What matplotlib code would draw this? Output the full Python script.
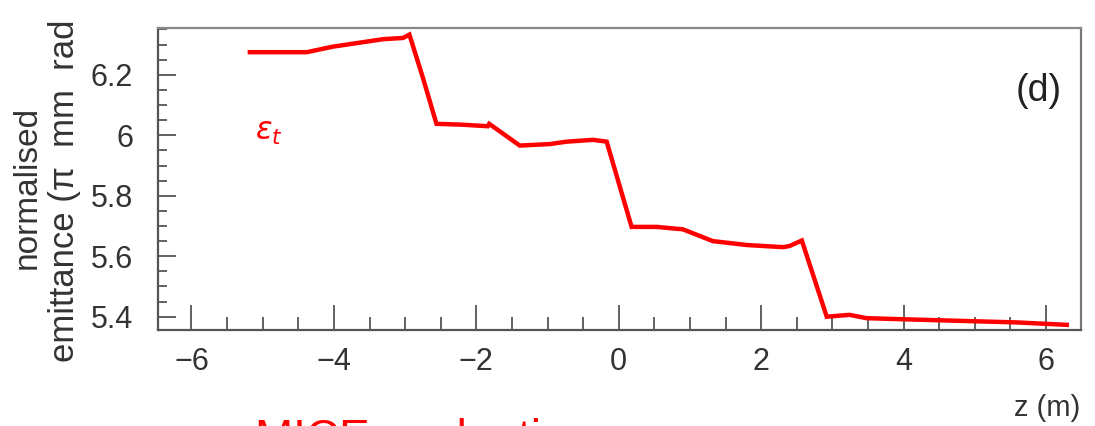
import matplotlib
matplotlib.use("Agg")
import matplotlib.pyplot as plt
from matplotlib.ticker import MultipleLocator

plt.rcParams['font.family'] = ['Liberation Sans', 'DejaVu Sans']
plt.rcParams['mathtext.fontset'] = 'dejavusans'

# Normalised transverse emittance along the channel
z_m = [-5.18, -4.38, -4.02, -3.31, -3.03, -2.94, -2.75, -2.56, -2.19, -1.84,
       -1.82, -1.39, -0.97, -0.73, -0.36, -0.17, 0.18, 0.53, 0.90, 1.32,
       1.80, 2.31, 2.40, 2.57, 2.92, 3.24, 3.48, 4.51, 5.59, 6.29]
emittance = [6.275, 6.275, 6.293, 6.318, 6.322, 6.333, 6.190, 6.038, 6.035, 6.030,
             6.038, 5.966, 5.971, 5.979, 5.985, 5.979, 5.697, 5.697, 5.689, 5.650,
             5.637, 5.630, 5.634, 5.652, 5.400, 5.406, 5.395, 5.388, 5.381, 5.373]

x_ticks = [-6, -4, -2, 0, 2, 4, 6]
x_labels = ['\u22126', '\u22124', '\u22122', '0', '2', '4', '6']
y_ticks = [5.4, 5.6, 5.8, 6.0, 6.2]
y_labels = ['5.4', '5.6', '5.8', '6', '6.2']

fig = plt.figure(figsize=(10.95, 4.26), dpi=100)
ax = fig.add_axes([0.1443, 0.2254, 0.8429, 0.7089])

ax.plot(z_m, emittance, color='#ff0000', lw=3.2, solid_joinstyle='miter')

ax.set_xlim(-6.47, 6.49)
ax.set_ylim(5.356, 6.355)

frame = '#555555'
for s in ax.spines.values():
    s.set_color(frame)
    s.set_linewidth(1.6)
ax.spines['top'].set_color('#888888')
ax.spines['right'].set_color('#777777')

ax.set_xticks(x_ticks)
ax.set_xticklabels(x_labels)
ax.set_yticks(y_ticks)
ax.set_yticklabels(y_labels)
ax.xaxis.set_minor_locator(MultipleLocator(0.5))
ax.yaxis.set_minor_locator(MultipleLocator(0.05))

ax.tick_params(axis='x', which='major', direction='in', length=18, width=1.3,
               color=frame, labelsize=22, labelcolor='#333333', pad=12,
               top=False)
ax.tick_params(axis='x', which='minor', direction='in', length=9.5, width=1.3,
               color=frame, top=False)
ax.tick_params(axis='y', which='major', direction='in', length=13, width=1.3,
               color=frame, labelsize=22, labelcolor='#333333', pad=18,
               right=False)
ax.tick_params(axis='y', which='minor', direction='in', length=6.5, width=1.3,
               color=frame, right=False)

# Two-line y axis title
fig.text(27 / 1095, 1 - 187 / 426, 'normalised', rotation=90, fontsize=24,
         color='#333333', ha='center', va='center')
fig.text(65 / 1095, 1 - 362 / 426, 'emittance (\u03c0  mm  rad', rotation=90,
         fontsize=25, color='#333333', ha='center', va='bottom')

fig.text(1080 / 1095, 1 - 416 / 426, 'z (m)', fontsize=21, color='#333333',
         ha='right', va='baseline')
fig.text(1039 / 1095, 1 - 91 / 426, '(d)', fontsize=27, color='#222222',
         ha='center', va='center')
ax.text(-4.92, 6.01, r'$\varepsilon_t$', color='#ff0000', fontsize=22,
        ha='center', va='center')

# Caption running off the bottom edge
fig.text(255 / 1095, 1 - 418 / 426, 'MICE evaluation', fontsize=33,
         color='#ff0000', ha='left', va='top')

fig.savefig('out.png', dpi=100)
